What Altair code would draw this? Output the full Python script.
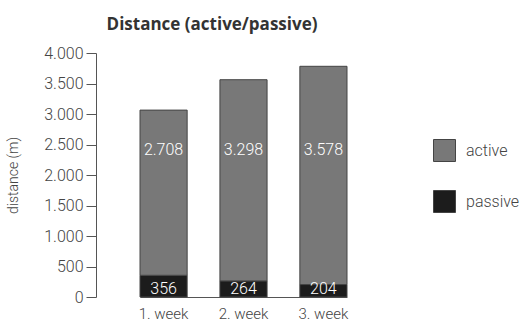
import altair as alt
import pandas as pd

weeks = ["1. week", "2. week", "3. week"]
active = [2708, 3298, 3578]
passive = [356, 264, 204]
series = ["active", "passive"]
colors = ["#787878", "#1c1c1c"]


def de_fmt(v):
    return f"{v:,}".replace(",", ".")


rows = []
for w, a, p in zip(weeks, active, passive):
    rows.append({"week": w, "type": "passive", "value": p, "order": 0, "label": de_fmt(p)})
    rows.append({"week": w, "type": "active", "value": a, "order": 1, "label": de_fmt(a)})
df = pd.DataFrame(rows)

FONT = "Roboto"

x_enc = alt.X(
    "week:N",
    sort=weeks,
    title=None,
    scale=alt.Scale(range=[44, 251], paddingInner=0.41, paddingOuter=0),
    axis=alt.Axis(
        labelAngle=0, ticks=False, domain=True, domainColor="#555",
        labelFontSize=15, labelColor="#444", labelPadding=9,
        labelFont=FONT, labelFontWeight=300,
    ),
)

bars = alt.Chart(df).mark_bar(stroke="#444", strokeWidth=1).encode(
    x=x_enc,
    y=alt.Y(
        "sum(value):Q",
        stack="zero",
        title="distance (m)",
        scale=alt.Scale(domain=[0, 4000], nice=False),
        axis=alt.Axis(
            values=[0, 500, 1000, 1500, 2000, 2500, 3000, 3500, 4000],
            labelExpr="replace(format(datum.value, ','), ',', '.')",
            grid=False, tickSize=10, tickColor="#555", domainColor="#555",
            labelFontSize=16, labelColor="#444", labelPadding=3,
            labelFont=FONT, labelFontWeight=300,
            titleFont=FONT, titleFontWeight=300, titleFontSize=14,
            titleColor="#444", titlePadding=23,
        ),
    ),
    color=alt.Color(
        "type:N",
        scale=alt.Scale(domain=series, range=colors),
        legend=alt.Legend(
            title=None, orient="none", legendX=337, legendY=86,
            symbolType="square", symbolSize=484, symbolStrokeColor="#444",
            symbolStrokeWidth=1, labelFontSize=16, labelColor="#444",
            labelFont=FONT, labelFontWeight=300, rowPadding=24,
            labelOffset=10,
        ),
    ),
    order=alt.Order("order:Q"),
)

active_text = alt.Chart(df[df["type"] == "active"]).mark_text(
    color="white", fontSize=16, font=FONT, fontWeight=300, baseline="middle"
).encode(x=alt.X("week:N", sort=weeks), y=alt.value(97), text="label:N")

passive_text = alt.Chart(df[df["type"] == "passive"]).mark_text(
    color="white", fontSize=16, font=FONT, fontWeight=300, baseline="middle"
).encode(x=alt.X("week:N", sort=weeks), y=alt.value(236), text="label:N")

chart = (
    alt.layer(bars, active_text, passive_text)
    .properties(
        width=252,
        height=244,
        title=alt.TitleParams(
            "Distance (active/passive)", font="Open Sans", fontSize=17,
            fontWeight="bold", color="#333", anchor="middle", offset=11, dx=-10,
        ),
        autosize=alt.AutoSizeParams(type="none"),
        padding={"left": 96, "top": 53, "right": 178, "bottom": 27},
    )
    .configure_view(stroke=None)
)

chart.save("out.html", embed_options={"renderer": "svg", "actions": False})
